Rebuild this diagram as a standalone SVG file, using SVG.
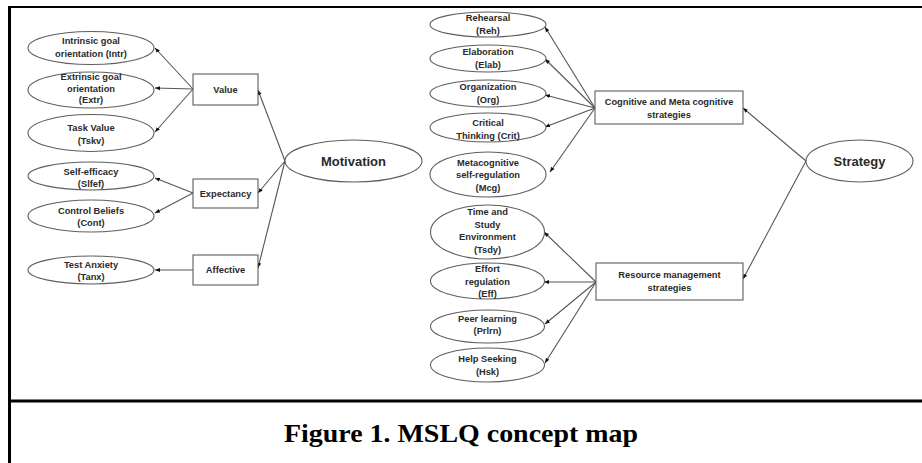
<svg xmlns="http://www.w3.org/2000/svg" width="922" height="463" viewBox="0 0 922 463">
<style>
.bg{fill:#fff}
.frame{stroke:#000;fill:none}
.n ellipse,.n rect{fill:#fff;stroke:#5e5e5e;stroke-width:1.1}
.n text{font-family:"Liberation Sans",Arial,sans-serif;font-weight:bold;font-size:9.3px;fill:#2a2a2a;text-anchor:middle}
.n text.big{font-size:13px}
.c line{stroke:#555;stroke-width:1.1;marker-end:url(#ah)}
.cap{font-family:"Liberation Serif","Times New Roman",serif;font-weight:bold;font-size:25px;fill:#000;text-anchor:middle}
</style>
<defs>
<marker id="ah" viewBox="0 0 10 10" refX="10" refY="5" markerWidth="5" markerHeight="5" orient="auto" markerUnits="userSpaceOnUse">
<path d="M0,1 L10,5 L0,9 z" fill="#111"/>
</marker>
</defs>
<rect class="bg" x="0" y="0" width="922" height="463"/>
<g id="frame">
<line class="frame" x1="8" y1="7" x2="922" y2="7" stroke-width="2"/>
<line class="frame" x1="9.5" y1="6" x2="9.5" y2="463" stroke-width="3"/>
<line class="frame" x1="9" y1="401" x2="922" y2="401" stroke-width="3"/>
</g>
<g id="connectors" class="c">
<line x1="193" y1="89" x2="155" y2="48"/>
<line x1="193" y1="89" x2="155" y2="88"/>
<line x1="193" y1="89" x2="155" y2="132"/>
<line x1="193" y1="193" x2="155" y2="178"/>
<line x1="193" y1="193" x2="155" y2="213"/>
<line x1="193" y1="270" x2="155" y2="270"/>
<line x1="285" y1="161" x2="258" y2="90"/>
<line x1="285" y1="161" x2="258" y2="193"/>
<line x1="285" y1="161" x2="258" y2="268"/>
<line x1="595" y1="108" x2="545" y2="27"/>
<line x1="595" y1="108" x2="545" y2="59"/>
<line x1="595" y1="108" x2="545" y2="95"/>
<line x1="595" y1="108" x2="545" y2="127"/>
<line x1="595" y1="108" x2="550" y2="172"/>
<line x1="596" y1="282" x2="544" y2="232"/>
<line x1="596" y1="282" x2="544" y2="282"/>
<line x1="596" y1="282" x2="545" y2="324"/>
<line x1="596" y1="282" x2="545" y2="363"/>
<line x1="806" y1="161" x2="743" y2="108"/>
<line x1="806" y1="161" x2="743" y2="279"/>
</g>
<g id="intr" class="n"><ellipse cx="91" cy="48" rx="63" ry="16.5"/><text x="91" y="44">Intrinsic goal</text><text x="91" y="56.5">orientation (Intr)</text></g>
<g id="extr" class="n"><ellipse cx="91" cy="90" rx="63" ry="18"/><text x="91" y="79.5">Extrinsic goal</text><text x="91" y="91.5">orientation</text><text x="91" y="103">(Extr)</text></g>
<g id="tskv" class="n"><ellipse cx="91" cy="133" rx="63" ry="18.5"/><text x="91" y="131">Task Value</text><text x="91" y="143.5">(Tskv)</text></g>
<g id="value" class="n"><rect x="193" y="74" width="65" height="31"/><text x="225.5" y="93">Value</text></g>
<g id="slfef" class="n"><ellipse cx="91" cy="176" rx="63" ry="14"/><text x="91" y="175">Self-efficacy</text><text x="91" y="186.5">(Slfef)</text></g>
<g id="cont" class="n"><ellipse cx="91" cy="216" rx="63" ry="16"/><text x="91" y="214">Control Beliefs</text><text x="91" y="225.5">(Cont)</text></g>
<g id="expectancy" class="n"><rect x="193" y="179" width="65" height="29"/><text x="225.5" y="197">Expectancy</text></g>
<g id="tanx" class="n"><ellipse cx="91" cy="270" rx="63" ry="14"/><text x="91" y="268">Test Anxiety</text><text x="91" y="280">(Tanx)</text></g>
<g id="affective" class="n"><rect x="193" y="255" width="65" height="30"/><text x="225.5" y="273">Affective</text></g>
<g id="motivation" class="n"><ellipse cx="353.5" cy="161" rx="68.5" ry="21"/><text class="big" x="353.5" y="165.5">Motivation</text></g>
<g id="reh" class="n"><ellipse cx="488" cy="24.5" rx="58" ry="12.5"/><text x="488" y="20.5">Rehearsal</text><text x="488" y="34">(Reh)</text></g>
<g id="elab" class="n"><ellipse cx="488" cy="58.5" rx="58" ry="13.5"/><text x="488" y="55">Elaboration</text><text x="488" y="67.5">(Elab)</text></g>
<g id="org" class="n"><ellipse cx="488" cy="93.5" rx="58" ry="13.5"/><text x="488" y="90">Organization</text><text x="488" y="102.5">(Org)</text></g>
<g id="crit" class="n"><ellipse cx="488" cy="127.5" rx="58" ry="14.5"/><text x="488" y="126">Critical</text><text x="488" y="138.5">Thinking (Crit)</text></g>
<g id="mcg" class="n"><ellipse cx="488" cy="174.5" rx="58" ry="22.5"/><text x="488" y="166">Metacognitive</text><text x="488" y="178">self-regulation</text><text x="488" y="191">(Mcg)</text></g>
<g id="cognitive" class="n"><rect x="595" y="91" width="148" height="33"/><text x="669" y="105">Cognitive and Meta cognitive</text><text x="669" y="117.5">strategies</text></g>
<g id="tsdy" class="n"><ellipse cx="487.5" cy="232" rx="57" ry="27"/><text x="487.5" y="215">Time and</text><text x="487.5" y="227.5">Study</text><text x="487.5" y="240">Environment</text><text x="487.5" y="252.5">(Tsdy)</text></g>
<g id="eff" class="n"><ellipse cx="487.5" cy="281" rx="57" ry="18"/><text x="487.5" y="272">Effort</text><text x="487.5" y="284.5">regulation</text><text x="487.5" y="297">(Eff)</text></g>
<g id="prlrn" class="n"><ellipse cx="487.5" cy="326.5" rx="57" ry="16.5"/><text x="487.5" y="321.5">Peer learning</text><text x="487.5" y="333.5">(Prlrn)</text></g>
<g id="hsk" class="n"><ellipse cx="487.5" cy="365" rx="57" ry="17"/><text x="487.5" y="362">Help Seeking</text><text x="487.5" y="375">(Hsk)</text></g>
<g id="resource" class="n"><rect x="596" y="263" width="147" height="37"/><text x="669.5" y="278">Resource management</text><text x="669.5" y="291">strategies</text></g>
<g id="strategy" class="n"><ellipse cx="859.5" cy="161" rx="53.5" ry="21"/><text class="big" x="859.5" y="165.5">Strategy</text></g>
<text class="cap" x="461" y="442" textLength="354" lengthAdjust="spacingAndGlyphs">Figure 1. MSLQ concept map</text>
</svg>
